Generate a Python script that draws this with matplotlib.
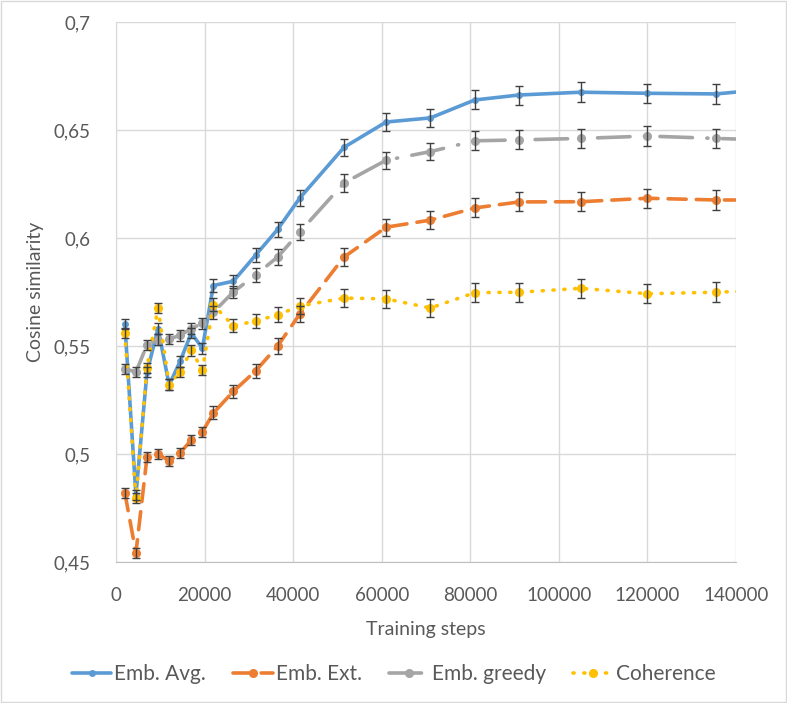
import matplotlib.pyplot as plt
from matplotlib.ticker import FuncFormatter, MultipleLocator
from matplotlib.patches import Rectangle

plt.rcParams["font.family"] = ["Lato", "DejaVu Sans"]

steps = [2000, 4500, 7000, 9500, 12000, 14500, 17000, 19500, 22000, 26500,
         31500, 36500, 41500, 51500, 61000, 71000, 81000, 91000, 105000,
         120000, 135500, 145000]

emb_avg = [0.560, 0.481, 0.538, 0.558, 0.532, 0.543, 0.556, 0.549, 0.578, 0.580,
           0.592, 0.604, 0.6185, 0.642, 0.6537, 0.6556, 0.6639, 0.6662, 0.6675,
           0.667, 0.6667, 0.6685]
emb_ext = [0.482, 0.4542, 0.4986, 0.500, 0.4968, 0.5005, 0.5065, 0.5102, 0.519, 0.529,
           0.5384, 0.550, 0.5648, 0.5912, 0.605, 0.6083, 0.6139, 0.6167, 0.6168,
           0.6184, 0.6176, 0.6176]
emb_greedy = [0.5394, 0.538, 0.5505, 0.553, 0.5532, 0.555, 0.558, 0.5606, 0.5657, 0.575,
              0.5829, 0.5912, 0.6028, 0.6255, 0.636, 0.640, 0.645, 0.6454, 0.6461,
              0.6472, 0.6461, 0.6455]
coherence = [0.556, 0.4796, 0.540, 0.5676, 0.532, 0.538, 0.5481, 0.5389, 0.569, 0.5593,
             0.5616, 0.5644, 0.5685, 0.5722, 0.5718, 0.5676, 0.5747, 0.5749, 0.5767,
             0.5742, 0.5749, 0.5756]
errors = [0.0023, 0.0023, 0.0023, 0.0025, 0.0025, 0.0025, 0.0025, 0.0025, 0.003, 0.003,
          0.0033, 0.0035, 0.0035, 0.004, 0.004, 0.004, 0.0044, 0.0044, 0.0045,
          0.0045, 0.0045, 0.0]

series = [
    ("Emb. Avg.", emb_avg, "#5B9BD5", "-", 4),
    ("Emb. Ext.", emb_ext, "#ED7D31", (0, (5, 2.8)), 5.5),
    ("Emb. greedy", emb_greedy, "#A5A5A5", (0, (9, 4, 0.3, 4)), 5.5),
    ("Coherence", coherence, "#FFC000", (0, (0.3, 2.7)), 5.5),
]

fig = plt.figure(figsize=(7.87, 7.03), dpi=100)
ax = fig.add_axes([116 / 787, 1 - 562 / 703, 620 / 787, 540 / 703])

n = len(steps) - 1
for label, vals, color, ls, ms in series:
    ax.plot(steps, vals, color=color, linestyle=ls, linewidth=2.6,
            dash_capstyle="round", solid_capstyle="round",
            marker="o", markersize=ms, markevery=list(range(n)),
            label=label, zorder=3)
    ax.errorbar(steps[:n], vals[:n], yerr=errors[:n], fmt="none",
                ecolor="#404040", elinewidth=1, capsize=3, capthick=1, zorder=4)

ax.set_xlim(0, 140000)
ax.set_ylim(0.45, 0.7)
ax.xaxis.set_major_locator(MultipleLocator(20000))
ax.yaxis.set_major_locator(MultipleLocator(0.05))
ax.yaxis.set_major_formatter(FuncFormatter(
    lambda v, p: ("%.2f" % v).rstrip("0").replace(".", ",")))

ax.grid(True, color="#D9D9D9", linewidth=1)
ax.set_axisbelow(True)
for s in ["top", "right"]:
    ax.spines[s].set_visible(False)
ax.spines["left"].set_color("#D9D9D9")
ax.spines["bottom"].set_color("#BFBFBF")
ax.tick_params(length=0, labelsize=13.5, labelcolor="#595959")
ax.tick_params(axis="x", pad=18)
ax.tick_params(axis="y", pad=18)

ax.set_xlabel("Training steps", fontsize=14, color="#595959", labelpad=12)
ax.set_ylabel("Cosine similarity", fontsize=14, color="#595959", labelpad=7)

handles, labels = ax.get_legend_handles_labels()
fig.legend(handles, labels, loc="center", bbox_to_anchor=(0.5, 1 - 674 / 703),
           ncol=4, frameon=False, fontsize=15, labelcolor="#595959",
           handlelength=1.9, columnspacing=1.3, handletextpad=0.15)

fig.patches.append(Rectangle((0.001, 0.001), 0.998, 0.998, transform=fig.transFigure,
                             fill=False, edgecolor="#D9D9D9", linewidth=1))

fig.savefig("out.png", dpi=100, facecolor="white")
